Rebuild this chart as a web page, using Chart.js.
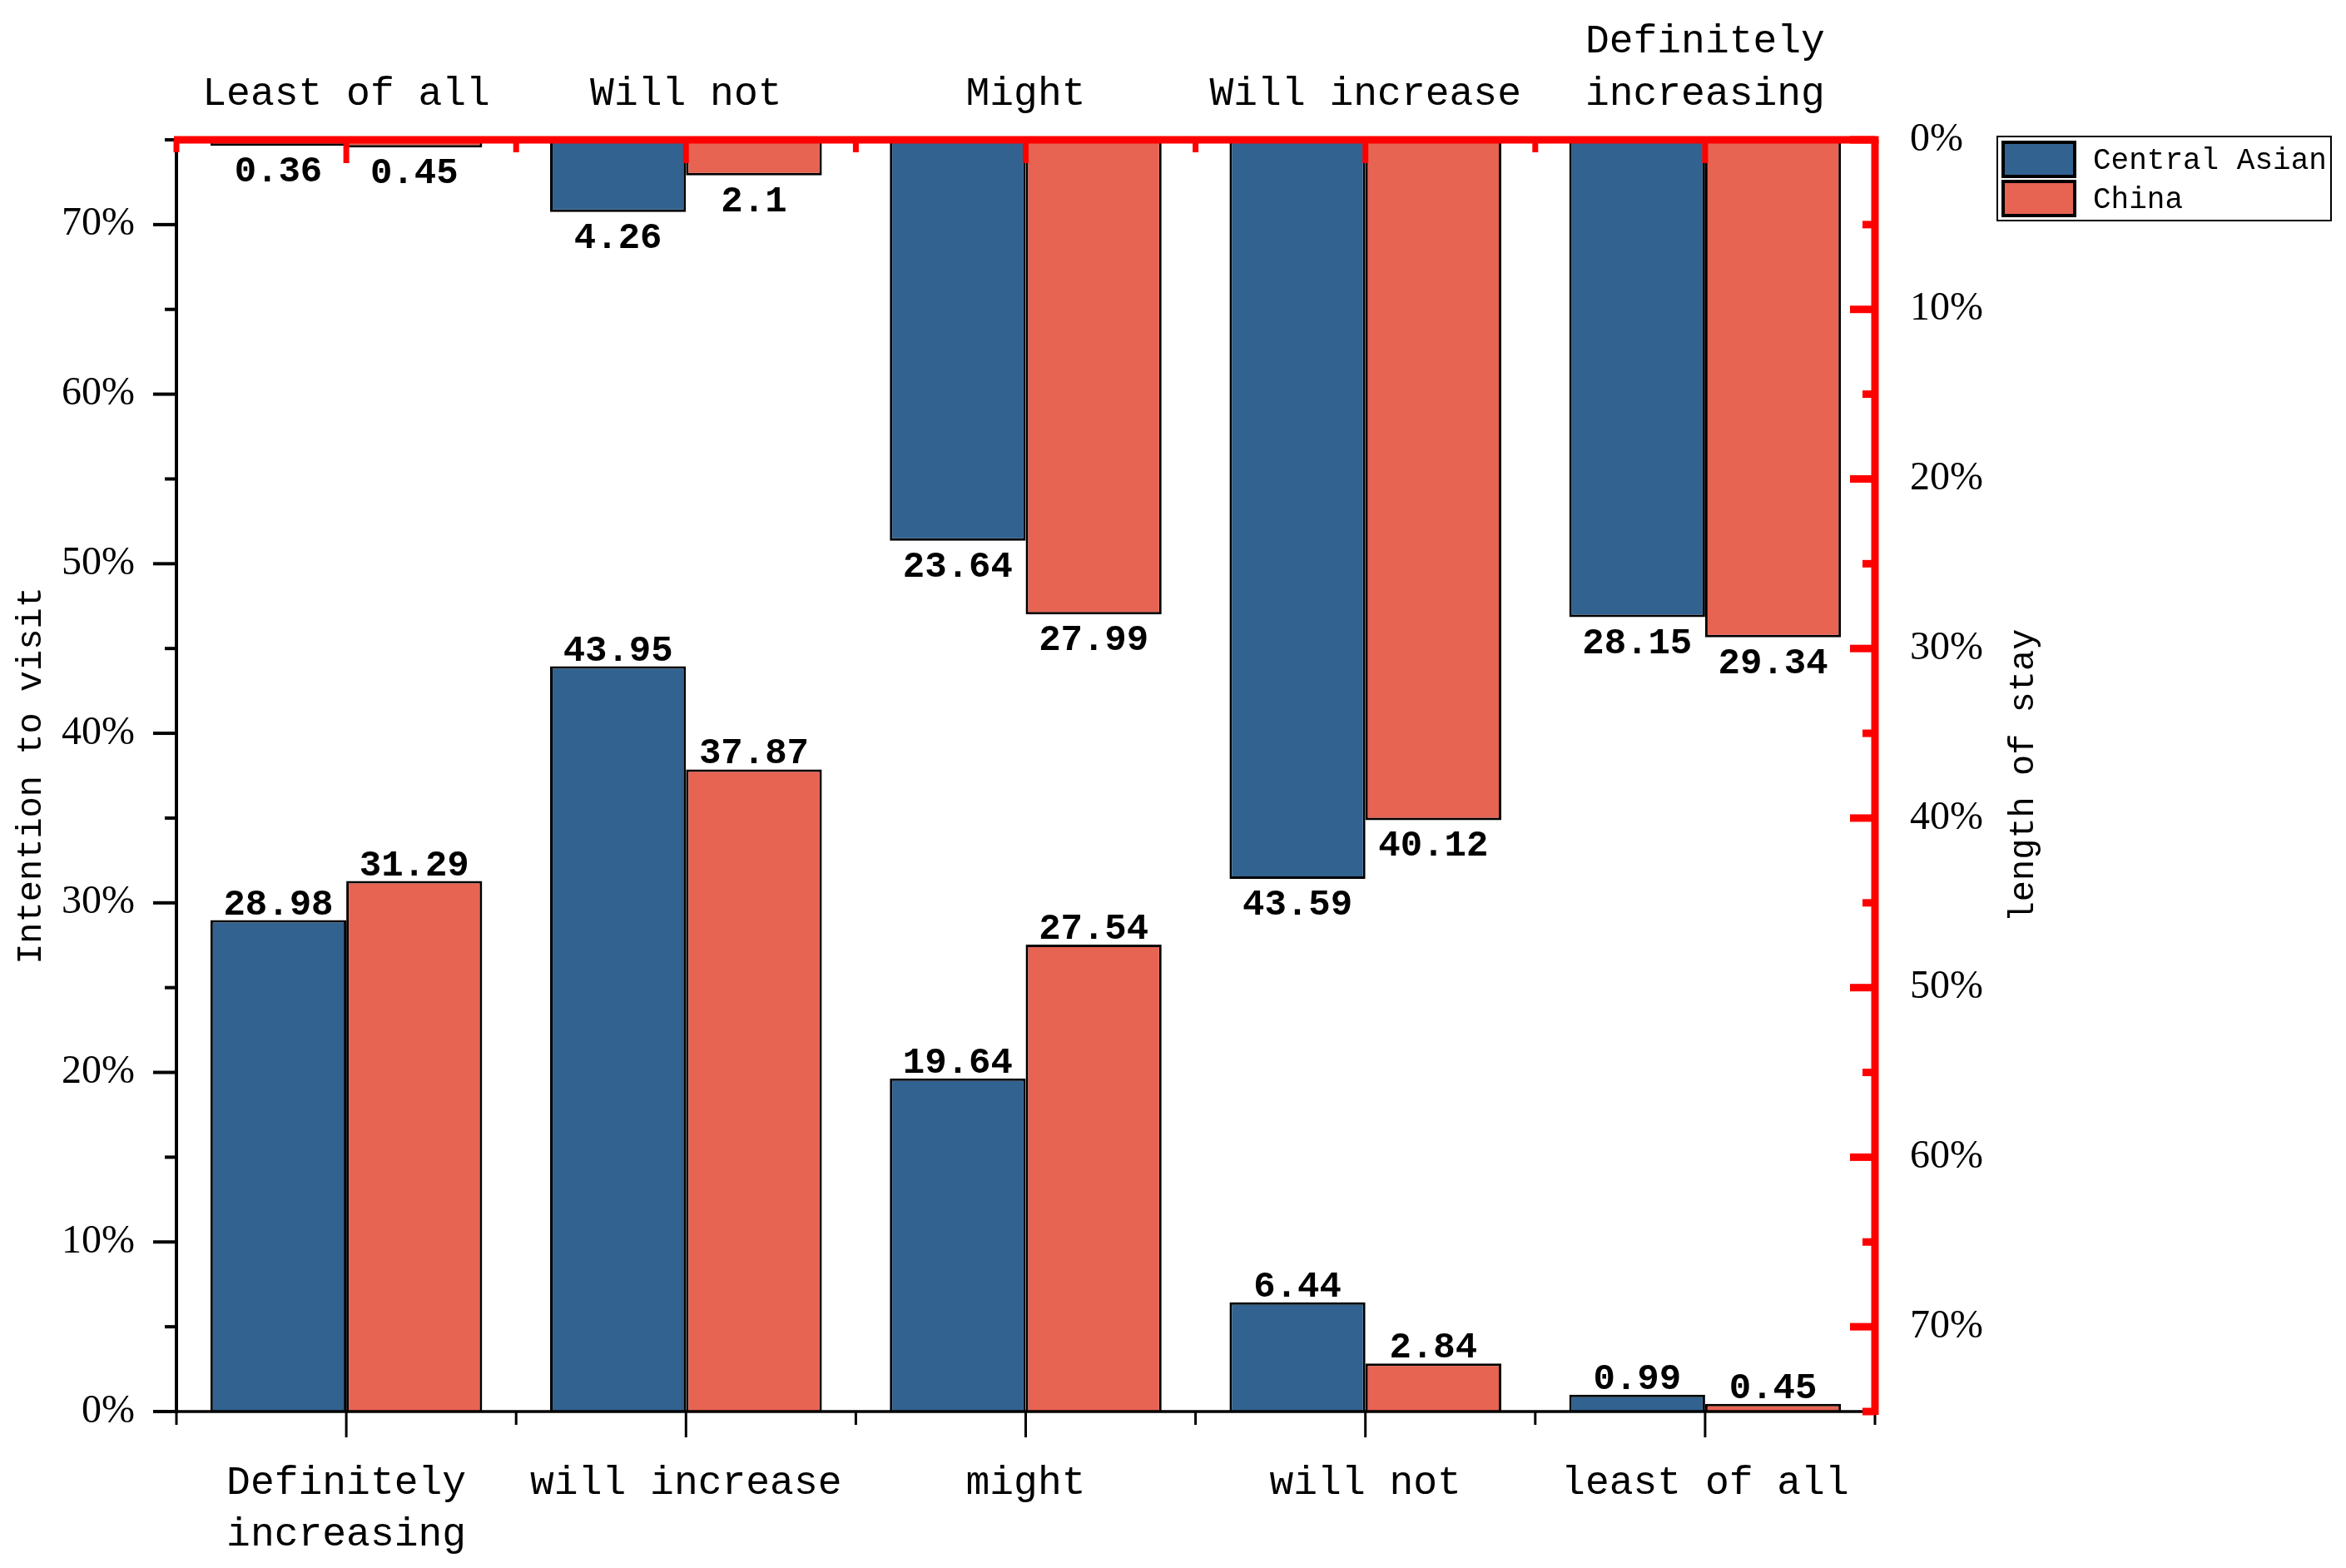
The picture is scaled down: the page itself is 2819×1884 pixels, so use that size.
<!DOCTYPE html>
<html>
<head>
<meta charset="utf-8">
<title>Intention to visit / length of stay</title>
<script src="https://cdn.jsdelivr.net/npm/chart.js@4.4.1/dist/chart.umd.min.js"></script>
<style>
  html, body { margin: 0; padding: 0; background: #fff; }
  canvas { display: block; }
</style>
</head>
<body>
<canvas id="chart" width="2819" height="1884"></canvas>
<script>
// bottom half: intention to visit (left axis)
const bottomCategories = [['Definitely', 'increasing'], 'will increase', 'might', 'will not', 'least of all'];
const visitCentralAsian = [28.98, 43.95, 19.64, 6.44, 0.99];
const visitChina = [31.29, 37.87, 27.54, 2.84, 0.45];

// top half: length of stay (right axis, reversed)
const topCategories = ['Least of all', 'Will not', 'Might', 'Will increase', ['Definitely', 'increasing']];
const stayCentralAsian = [0.36, 4.26, 23.64, 43.59, 28.15];
const stayChina = [0.45, 2.1, 27.99, 40.12, 29.34];

const seriesNames = ['Central Asian', 'China'];
const percentTicks = [0, 10, 20, 30, 40, 50, 60, 70];
const axisMax = 75;

const BLUE = '#316290';
const RED = '#e76352';
const MONO = "'Liberation Mono', 'DejaVu Sans Mono', monospace";
const SERIF = "'Liberation Serif', 'DejaVu Serif', serif";

function seg(ctx, x1, y1, x2, y2) {
    ctx.beginPath();
    ctx.moveTo(x1, y1);
    ctx.lineTo(x2, y2);
    ctx.stroke();
}

// axes lines, ticks, value labels, titles
const axisDecor = {
    id: 'axisDecor',
    afterDatasetsDraw(chart) {
        const { ctx, chartArea: a, scales } = chart;
        const n = bottomCategories.length;
        ctx.save();
        ctx.lineCap = 'butt';

        // left black axis
        ctx.strokeStyle = '#000';
        ctx.lineWidth = 4;
        seg(ctx, a.left, a.top, a.left, a.bottom + 2);
        for (let v = 0; v <= axisMax; v += 5) {
            const py = scales.y.getPixelForValue(v);
            seg(ctx, a.left - (v % 10 === 0 ? 28 : 14), py, a.left, py);
        }
        // bottom black axis
        ctx.lineWidth = 3.5;
        seg(ctx, a.left - 2, a.bottom, a.right, a.bottom);
        ctx.lineWidth = 3;
        for (let i = 0; i < n; i++) {
            const px = scales.x.getPixelForValue(i);
            seg(ctx, px, a.bottom, px, a.bottom + 31);
        }
        for (let i = 0; i <= n; i++) {
            const px = scales.x.getPixelForValue(i - 0.5);
            seg(ctx, px, a.bottom, px, a.bottom + 16);
        }

        // red top and right axes
        ctx.strokeStyle = '#ff0000';
        ctx.lineWidth = 9;
        seg(ctx, a.left - 3, a.top, a.right + 4.5, a.top);
        seg(ctx, a.right, a.top, a.right, a.bottom + 4);
        ctx.lineWidth = 7;
        for (let i = 0; i < n; i++) {
            const px = scales.x2.getPixelForValue(i);
            seg(ctx, px, a.top, px, a.top + 28);
        }
        for (let i = 0; i <= n; i++) {
            const px = scales.x2.getPixelForValue(i - 0.5);
            seg(ctx, px, a.top, px, a.top + 15);
        }
        ctx.lineWidth = 9;
        for (let v = 0; v <= axisMax; v += 5) {
            const py = scales.y2.getPixelForValue(v);
            seg(ctx, a.right - (v % 10 === 0 ? 30 : 15), py, a.right, py);
        }

        // value labels
        ctx.fillStyle = '#000';
        ctx.font = 'bold 44px ' + MONO;
        ctx.textAlign = 'center';
        ctx.textBaseline = 'alphabetic';
        chart.data.datasets.forEach((ds, di) => {
            const meta = chart.getDatasetMeta(di);
            const onTop = ds.yAxisID === 'y2';
            meta.data.forEach((bar, i) => {
                const txt = String(ds.data[i]);
                if (onTop) ctx.fillText(txt, bar.x, bar.y + 43);
                else ctx.fillText(txt, bar.x, bar.y - 7);
            });
        });

        // axis titles
        ctx.font = '42px ' + MONO;
        ctx.textBaseline = 'middle';
        const midY = (a.top + a.bottom) / 2;
        ctx.save();
        ctx.translate(38, midY);
        ctx.rotate(-Math.PI / 2);
        ctx.fillText('Intention to visit', 0, 0);
        ctx.restore();
        ctx.save();
        ctx.translate(a.right + 179, midY);
        ctx.rotate(-Math.PI / 2);
        ctx.fillText('length of stay', 0, 0);
        ctx.restore();

        ctx.restore();
    }
};

// boxed legend at the upper right
const legendBox = {
    id: 'legendBox',
    afterDraw(chart) {
        const { ctx, chartArea: a } = chart;
        const bx = a.right + 147, by = a.top - 4;
        ctx.save();
        ctx.strokeStyle = '#000';
        ctx.lineWidth = 2;
        ctx.strokeRect(bx, by, 401, 101);
        const colors = [BLUE, RED];
        seriesNames.forEach((name, i) => {
            const sy = by + 7 + i * 47;
            ctx.fillStyle = colors[i];
            ctx.fillRect(bx + 7, sy, 86, 41);
            ctx.lineWidth = 4;
            ctx.strokeRect(bx + 7, sy, 86, 41);
            ctx.fillStyle = '#000';
            ctx.font = '36px ' + MONO;
            ctx.textAlign = 'left';
            ctx.textBaseline = 'middle';
            ctx.fillText(name, bx + 115, sy + 22);
        });
        ctx.restore();
    }
};

const barStyle = { borderColor: '#000', borderWidth: 3, barPercentage: 1.0, categoryPercentage: 0.8 };
const noGrid = { display: false, drawTicks: false };

// all bars share the bottom category scale (same slots); x2 only carries the top labels
new Chart(document.getElementById('chart'), {
    type: 'bar',
    data: {
        datasets: [
            { label: seriesNames[0], data: visitCentralAsian, backgroundColor: BLUE, xAxisID: 'x', yAxisID: 'y', stack: 'ca', ...barStyle },
            { label: seriesNames[1], data: visitChina, backgroundColor: RED, xAxisID: 'x', yAxisID: 'y', stack: 'cn', ...barStyle },
            { label: seriesNames[0], data: stayCentralAsian, backgroundColor: BLUE, xAxisID: 'x', yAxisID: 'y2', stack: 'ca', ...barStyle },
            { label: seriesNames[1], data: stayChina, backgroundColor: RED, xAxisID: 'x', yAxisID: 'y2', stack: 'cn', ...barStyle }
        ]
    },
    options: {
        responsive: false,
        devicePixelRatio: 1,
        animation: false,
        layout: { padding: 0 },
        plugins: { legend: { display: false }, tooltip: { enabled: false } },
        scales: {
            x: {
                type: 'category', labels: bottomCategories, position: 'bottom', offset: true, stacked: true,
                grid: noGrid, border: { display: false },
                ticks: { color: '#000', padding: 55, maxRotation: 0, autoSkip: false, font: { family: MONO, size: 48, lineHeight: 1.3 } },
                afterFit(s) { s.height = 188; }
            },
            x2: {
                type: 'category', labels: topCategories, position: 'top', offset: true,
                grid: noGrid, border: { display: false },
                ticks: { color: '#000', padding: 24, maxRotation: 0, autoSkip: false, font: { family: MONO, size: 48, lineHeight: 1.3 } },
                afterFit(s) { s.height = 168; }
            },
            y: {
                type: 'linear', position: 'left', min: 0, max: axisMax,
                grid: noGrid, border: { display: false },
                afterBuildTicks(s) { s.ticks = percentTicks.map(v => ({ value: v })); },
                ticks: { color: '#000', padding: 50, callback: v => v + '%', font: { family: SERIF, size: 48 } },
                afterFit(s) { s.width = 212; }
            },
            y2: {
                type: 'linear', position: 'right', min: 0, max: axisMax, reverse: true,
                grid: noGrid, border: { display: false },
                afterBuildTicks(s) { s.ticks = percentTicks.map(v => ({ value: v })); },
                ticks: { color: '#000', padding: 42, callback: v => v + '%', font: { family: SERIF, size: 48 } },
                afterFit(s) { s.width = 566; }
            }
        }
    },
    plugins: [axisDecor, legendBox]
});
</script>
</body>
</html>
